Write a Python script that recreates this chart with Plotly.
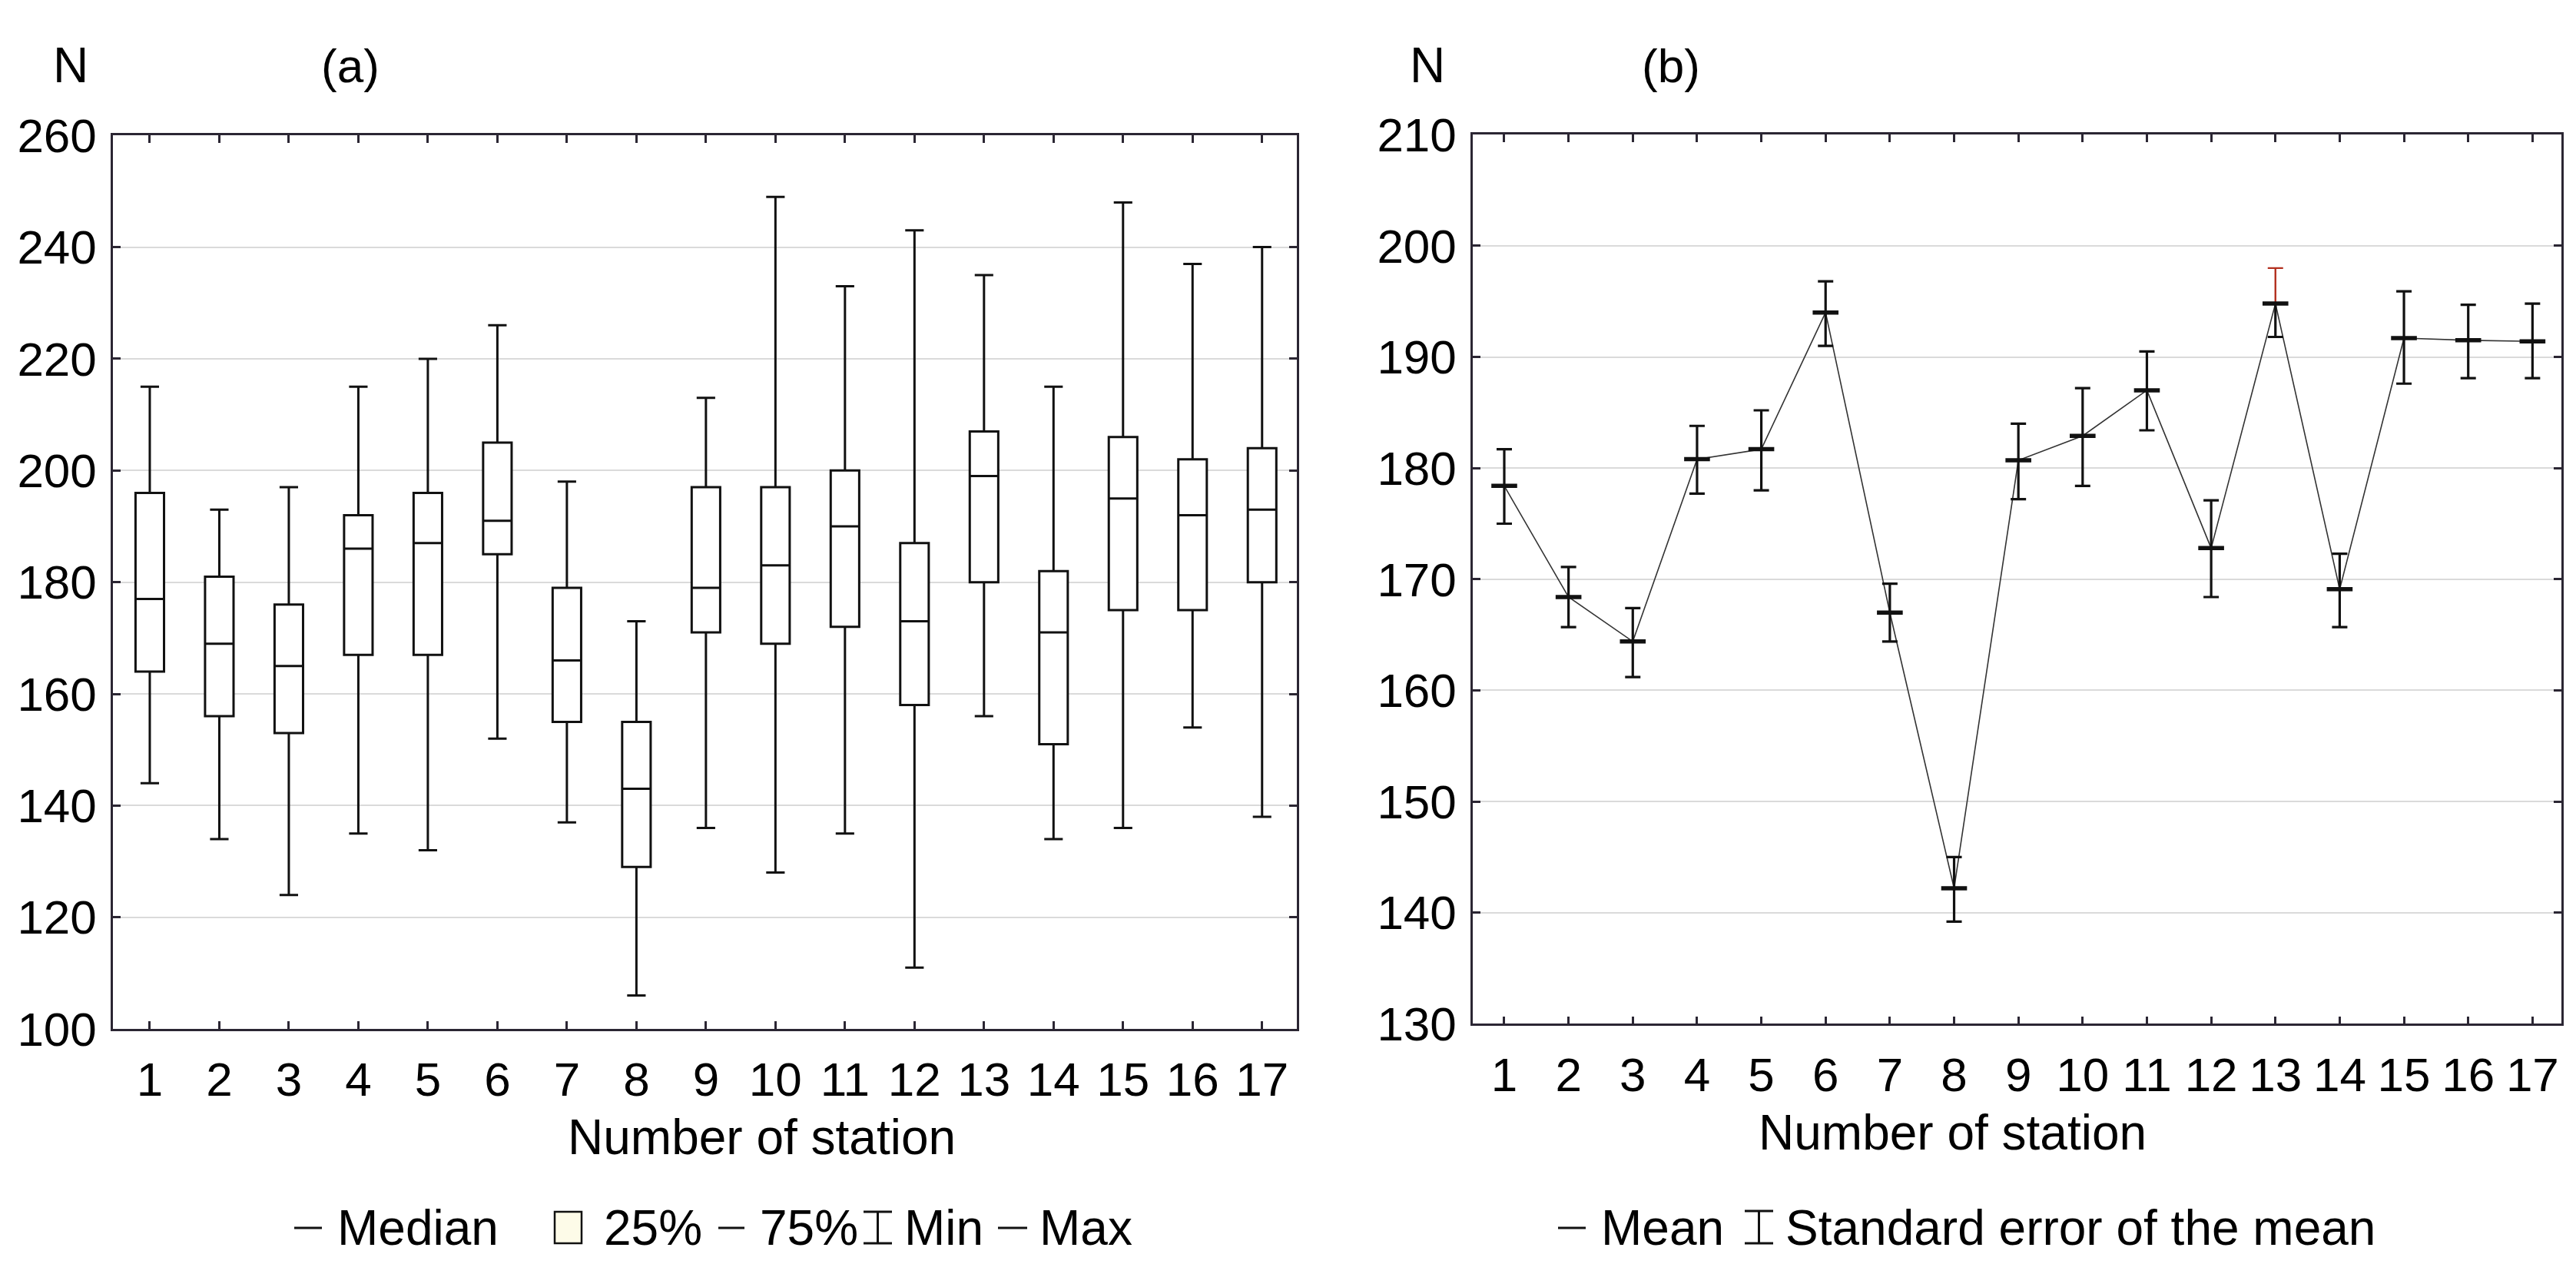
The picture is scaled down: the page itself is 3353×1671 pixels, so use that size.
import plotly.graph_objects as go

# ---------------- data ----------------
stations = list(range(1, 18))
tick_labels = [str(s) for s in stations]

# (a) box plot statistics
box_min = [144, 134, 124, 135, 132, 152, 137, 106, 136, 128, 135, 111, 156, 134, 136, 154, 138]
box_q1 = [164, 156, 153, 167, 167, 185, 155, 129, 171, 169, 172, 158, 180, 151, 175, 175, 180]
box_median = [177, 169, 165, 186, 187, 191, 166, 143, 179, 183, 190, 173, 199, 171, 195, 192, 193]
box_q3 = [196, 181, 176, 192, 196, 205, 179, 155, 197, 197, 200, 187, 207, 182, 206, 202, 204]
box_max = [215, 193, 197, 215, 220, 226, 198, 173, 213, 249, 233, 243, 235, 215, 248, 237, 240]

# (b) mean and standard error of the mean (lower / upper bar ends)
mean_vals = [178.4, 168.4, 164.4, 180.8, 181.7, 194.0, 167.0, 142.2, 180.7, 182.9, 187.0, 172.8, 194.8, 169.1, 191.7, 191.5, 191.4]
sem_low = [175.0, 165.7, 161.2, 177.7, 178.0, 191.0, 164.4, 139.2, 177.2, 178.4, 183.4, 168.4, 191.8, 165.7, 187.6, 188.1, 188.1]
sem_high = [181.7, 171.1, 167.4, 183.8, 185.2, 196.8, 169.6, 145.0, 184.0, 187.2, 190.5, 177.1, 198.0, 172.3, 195.9, 194.7, 194.8]
highlight_station = 13  # upper half of its error bar drawn in red

# ---------------- layout helpers ----------------
W, H = 3353, 1671
FONT = "Liberation Sans, Arial, sans-serif"
INK = "#111111"
AXIS = "#2b2633"
GRID = "#dadada"


def px(x):
    return x / W


def py(y):
    return 1 - y / H


fig = go.Figure()

# ---------------- panel (a) ----------------
fig.add_trace(go.Box(
    x=stations, q1=box_q1, median=box_median, q3=box_q3,
    lowerfence=box_min, upperfence=box_max,
    width=0.41, whiskerwidth=0.65,
    line=dict(color=INK, width=3), fillcolor="white",
    boxpoints=False, xaxis="x", yaxis="y", showlegend=False,
))

# ---------------- panel (b) ----------------
fig.add_trace(go.Scatter(
    x=stations, y=mean_vals, mode="lines",
    line=dict(color="#333333", width=1.6),
    xaxis="x2", yaxis="y2", showlegend=False,
))
err_plus = [0 if s == highlight_station else h - m for s, h, m in zip(stations, sem_high, mean_vals)]
err_minus = [m - l for m, l in zip(mean_vals, sem_low)]
fig.add_trace(go.Scatter(
    x=stations, y=mean_vals, mode="markers",
    marker=dict(size=1, color="rgba(0,0,0,0)"),
    error_y=dict(type="data", symmetric=False, array=err_plus, arrayminus=err_minus,
                 color=INK, thickness=3.2, width=10),
    xaxis="x2", yaxis="y2", showlegend=False,
))
hi = [(s, m, h) for s, m, h in zip(stations, mean_vals, sem_high) if s == highlight_station]
fig.add_trace(go.Scatter(
    x=[t[0] for t in hi], y=[t[1] for t in hi], mode="markers",
    marker=dict(size=1, color="rgba(0,0,0,0)"),
    error_y=dict(type="data", symmetric=False, array=[t[2] - t[1] for t in hi],
                 arrayminus=[0 for _ in hi], color="#b3301f", thickness=2.4, width=10),
    xaxis="x2", yaxis="y2", showlegend=False,
))
fig.add_trace(go.Scatter(
    x=stations, y=mean_vals, mode="markers",
    marker=dict(symbol="line-ew", size=24, color=INK, line=dict(color=INK, width=5.5)),
    xaxis="x2", yaxis="y2", showlegend=False,
))

axis_common = dict(
    showline=True, linecolor=AXIS, linewidth=2.5, mirror="ticks",
    ticks="inside", ticklen=10, tickwidth=2.5, tickcolor=AXIS,
    tickfont=dict(family=FONT, size=62, color="black"), zeroline=False,
)

fig.update_layout(
    width=W, height=H,
    margin=dict(l=0, r=0, t=0, b=0),
    paper_bgcolor="white", plot_bgcolor="white",
    font=dict(family=FONT, color="black"),
    showlegend=False,
    xaxis=dict(domain=[px(139), px(1680)], range=[0.47, 17.5],
               tickvals=stations, ticktext=tick_labels, showgrid=False,
               ticklabelstandoff=10, anchor="y", **axis_common),
    yaxis=dict(domain=[py(1353), py(140)], range=[100, 260], dtick=20,
               showgrid=True, gridcolor=GRID, gridwidth=2,
               ticklabelstandoff=6, anchor="x", **axis_common),
    xaxis2=dict(domain=[px(1909), px(3326)], range=[0.51, 17.45],
                tickvals=stations, ticktext=tick_labels, showgrid=False,
                ticklabelstandoff=10, anchor="y2", **axis_common),
    yaxis2=dict(domain=[py(1346), py(139)], range=[130, 210], dtick=10,
                showgrid=True, gridcolor=GRID, gridwidth=2,
                ticklabelstandoff=6, anchor="x2", **axis_common),
)

ann = []


def text(x, y, s, size=64, xanchor="center"):
    ann.append(dict(x=px(x), y=py(y), xref="paper", yref="paper", text=s, showarrow=False,
                    xanchor=xanchor, yanchor="middle", borderpad=0,
                    font=dict(family=FONT, size=size, color="black")))


text(84, 45, "N", 64)
text(448, 45, "(a)", 62)
text(1850, 45, "N", 64)
text(2167, 45, "(b)", 62)
text(983, 1500, "Number of station", 64)
text(2533, 1494, "Number of station", 64)

# legend texts
LY = 1623
text(430, LY, "Median", 64, "left")
text(777, LY, "25%", 64, "left")
text(980, LY, "75%", 64, "left")
text(1168, LY, "Min", 64, "left")
text(1344, LY, "Max", 64, "left")
text(2075, LY, "Mean", 64, "left")
text(2315, LY, "Standard error of the mean", 64, "left")
fig.update_layout(annotations=ann)

shapes = []


def hline(x0, x1, y, w=3, color=INK):
    shapes.append(dict(type="line", xref="paper", yref="paper",
                       x0=px(x0), x1=px(x1), y0=py(y), y1=py(y),
                       line=dict(color=color, width=w)))


def vline(x, y0, y1, w=3, color=INK):
    shapes.append(dict(type="line", xref="paper", yref="paper",
                       x0=px(x), x1=px(x), y0=py(y0), y1=py(y1),
                       line=dict(color=color, width=w)))


def ibeam(x0, x1, y0, y1):
    xc = (x0 + x1) / 2
    vline(xc, y0, y1)
    hline(x0, x1, y0)
    hline(x0, x1, y1)


hline(375, 411, LY)
shapes.append(dict(type="rect", xref="paper", yref="paper",
                   x0=px(714), x1=px(749), y0=py(1644), y1=py(1601),
                   fillcolor="#fdfbe8", line=dict(color=INK, width=2.5)))
hline(927, 961, LY)
ibeam(1116, 1153, 1601, 1644)
hline(1291, 1329, LY)
hline(2020, 2056, LY)
ibeam(2263, 2300, 1600, 1644)
fig.update_layout(shapes=shapes)

fig.write_html("out.html")
